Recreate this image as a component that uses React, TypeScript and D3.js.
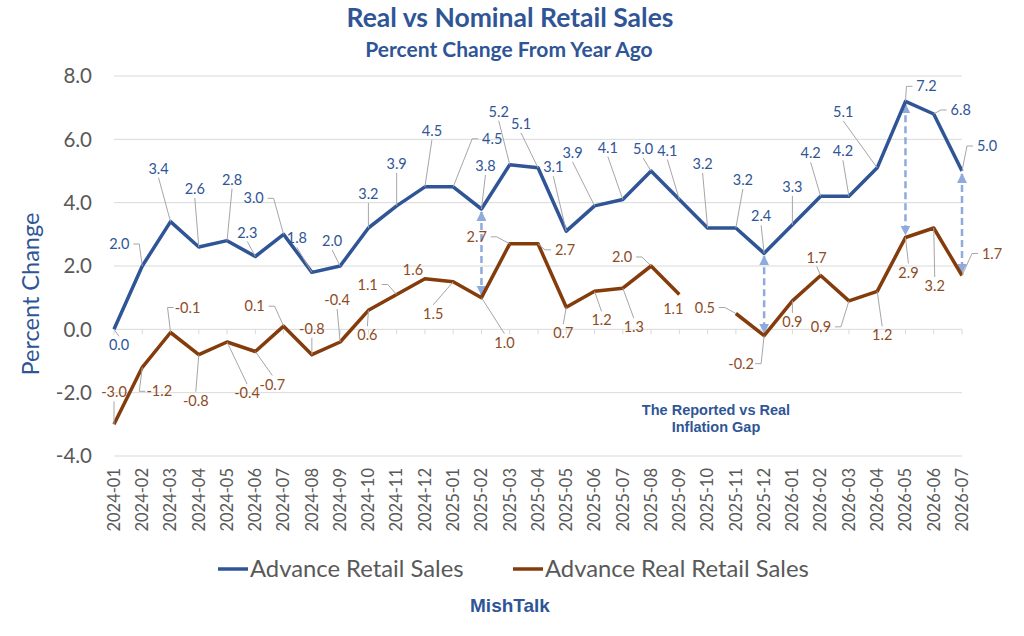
import React, { useEffect, useRef } from 'react';
import * as d3 from 'd3';

// months on the category axis
const months = [
  '2024-01', '2024-02', '2024-03', '2024-04', '2024-05', '2024-06', '2024-07', '2024-08', '2024-09', '2024-10', '2024-11', '2024-12',
  '2025-01', '2025-02', '2025-03', '2025-04', '2025-05', '2025-06', '2025-07', '2025-08', '2025-09', '2025-10', '2025-11', '2025-12',
  '2026-01', '2026-02', '2026-03', '2026-04', '2026-05', '2026-06', '2026-07',
];

const nominal = [
  0.0, 2.0, 3.4, 2.6, 2.8, 2.3, 3.0, 1.8, 2.0, 3.2, 3.9, 4.5,
  4.5, 3.8, 5.2, 5.1, 3.1, 3.9, 4.1, 5.0, 4.1, 3.2, 3.2, 2.4,
  3.3, 4.2, 4.2, 5.1, 7.2, 6.8, 5.0,
];

const real: (number | null)[] = [
  -3.0, -1.2, -0.1, -0.8, -0.4, -0.7, 0.1, -0.8, -0.4, 0.6, 1.1, 1.6,
  1.5, 1.0, 2.7, 2.7, 0.7, 1.2, 1.3, 2.0, 1.1, null, 0.5, -0.2,
  0.9, 1.7, 0.9, 1.2, 2.9, 3.2, 1.7,
];

const yTicks = [-4, -2, 0, 2, 4, 6, 8];

// months where the gap arrow is drawn
const gapMonths = ['2025-02', '2025-12', '2026-05', '2026-07'];

// label offsets (px) from each point, as placed in the original
const nominalLabelOffsets = [
  [5, 16], [-23, -22], [-12, -53], [-4, -58], [5, -61], [-8, -24], [-30, -36], [-15, -34], [-8, -25], [0, -34], [0, -42], [7, -56],
  [39, -48], [4, -43], [-11, -53], [-17, -44], [-13, -64], [-22, -53], [-15, -52], [-8, -22], [-12, -49], [-5, -64], [7, -48], [-3, -37],
  [0, -38], [-10, -43], [-6, -45], [-34, -56], [21, -15], [27, -4], [25, -25],
];
const realLabelOffsets = [
  [0, -32], [17, 24], [17, -25], [-3, 46], [20, 51], [17, 33], [-29, -20], [0, -26], [-3, -42], [-1, 25], [-29, -10], [-12, -9],
  [-20, 32], [23, 45], [-33, -7], [27, 6], [-3, 26], [7, 29], [11, 39], [-29, -9], [-6, 14], [0, 0], [-31, -6], [-23, 28],
  [0, 21], [-4, -18], [-28, 26], [5, 44], [3, 35], [1, 58], [30, -22],
];

const BLUE = '#2F5597';
const BROWN = '#843C0C';
const FONT = 'Lato, "Open Sans", sans-serif';
const ARIAL = '"Liberation Sans", Arial, sans-serif';

const App = () => {
  const ref = useRef<SVGSVGElement>(null);

  useEffect(() => {
    const svg = d3.select(ref.current);
    svg.selectAll('*').remove();

    const x = d3.scalePoint<string>().domain(months).range([114, 962]);
    const y = d3.scaleLinear().domain([-4, 8]).range([456, 76]);

    // titles
    svg.append('text').attr('x', 510).attr('y', 27).attr('text-anchor', 'middle')
      .attr('font-family', FONT).attr('font-weight', 'bold').attr('font-size', 26.5).attr('fill', BLUE)
      .text('Real vs Nominal Retail Sales');
    svg.append('text').attr('x', 509).attr('y', 57).attr('text-anchor', 'middle')
      .attr('font-family', FONT).attr('font-weight', 'bold').attr('font-size', 21).attr('fill', BLUE)
      .text('Percent Change From Year Ago');

    // gridlines
    svg.append('g').selectAll('line').data(yTicks).join('line')
      .attr('x1', 114).attr('x2', 962)
      .attr('y1', d => y(d)).attr('y2', d => y(d))
      .attr('stroke', '#D9D9D9').attr('stroke-width', 1);

    // y tick labels
    svg.append('g').selectAll('text').data(yTicks).join('text')
      .attr('x', 92).attr('y', d => y(d)).attr('dy', '0.35em').attr('text-anchor', 'end')
      .attr('font-family', FONT).attr('font-size', 20.5).attr('fill', '#595959')
      .text(d => d.toFixed(1));

    // y axis title
    svg.append('text').attr('transform', 'translate(39,294) rotate(-90)').attr('text-anchor', 'middle')
      .attr('font-family', FONT).attr('font-size', 23.5).attr('fill', BLUE)
      .text('Percent Change');

    // category tick marks on the zero line
    svg.append('g').selectAll('line').data(months).join('line')
      .attr('x1', d => x(d)!).attr('x2', d => x(d)!)
      .attr('y1', y(0)).attr('y2', y(0) + 5)
      .attr('stroke', '#D9D9D9');

    // x labels (rotated)
    svg.append('g').selectAll('text').data(months).join('text')
      .attr('transform', d => `translate(${x(d)},468) rotate(-90)`)
      .attr('dy', '0.35em').attr('text-anchor', 'end')
      .attr('font-family', FONT).attr('font-size', 16.5).attr('fill', '#595959')
      .text(d => d);

    // gap arrows
    const defs = svg.append('defs');
    ['start', 'end'].forEach(k => {
      defs.append('marker').attr('id', 'arr-' + k)
        .attr('viewBox', '0 0 10 10').attr('refX', 9).attr('refY', 5)
        .attr('markerWidth', 4).attr('markerHeight', 4)
        .attr('orient', k === 'start' ? 'auto-start-reverse' : 'auto')
        .append('path').attr('d', 'M0,0 L10,5 L0,10 z').attr('fill', '#8FAADC');
    });
    svg.append('g').selectAll('line').data(gapMonths).join('line')
      .attr('x1', d => x(d)!).attr('x2', d => x(d)!)
      .attr('y1', d => y(nominal[months.indexOf(d)]) + 3)
      .attr('y2', d => y(real[months.indexOf(d)] as number) - 3)
      .attr('stroke', '#8FAADC').attr('stroke-width', 2.5).attr('stroke-dasharray', '7,4')
      .attr('marker-start', 'url(#arr-start)').attr('marker-end', 'url(#arr-end)');

    // lines
    const line = d3.line<number | null>()
      .defined(d => d !== null)
      .x((_, i) => x(months[i])!)
      .y(d => y(d as number));
    svg.append('path').datum(nominal).attr('d', line as any)
      .attr('fill', 'none').attr('stroke', BLUE).attr('stroke-width', 3.5).attr('stroke-linejoin', 'round');
    svg.append('path').datum(real).attr('d', line)
      .attr('fill', 'none').attr('stroke', BROWN).attr('stroke-width', 3.5).attr('stroke-linejoin', 'round');

    // data labels with leader lines
    const drawLabels = (vals: (number | null)[], offs: number[][], color: string) => {
      const g = svg.append('g');
      vals.forEach((v, i) => {
        if (v === null) return;
        const px = x(months[i])!;
        const py = y(v);
        const lx = px + offs[i][0];
        const ly = py + offs[i][1];
        const hw = 12, hh = 8;
        const ddx = px - lx, ddy = py - ly;
        if (Math.abs(ddx) > hw + 4 || Math.abs(ddy) > hh + 6) {
          let pts: [number, number][];
          if (Math.abs(ddx) > hw + 4 && Math.abs(ddy) < Math.abs(ddx) * 1.6) {
            const sx = ddx > 0 ? lx + hw + 2 : lx - hw - 2;
            const hx = sx + (ddx > 0 ? 6 : -6);
            pts = [[sx, ly], [hx, ly], [px, py]];
          } else {
            const sy = ddy > 0 ? ly + hh + 1 : ly - hh - 1;
            pts = [[lx, sy], [px, py]];
          }
          g.append('path').attr('d', d3.line()(pts))
            .attr('fill', 'none').attr('stroke', '#A6A6A6').attr('stroke-width', 1);
        }
        g.append('text').attr('x', lx).attr('y', ly).attr('dy', '0.35em').attr('text-anchor', 'middle')
          .attr('font-family', FONT).attr('font-size', 14.5).attr('fill', color)
          .text(v.toFixed(1));
      });
    };
    drawLabels(nominal, nominalLabelOffsets, '#2F5597');
    drawLabels(real, realLabelOffsets, '#8E4B1F');

    // annotation
    const ann = svg.append('text').attr('text-anchor', 'middle')
      .attr('font-family', ARIAL).attr('font-weight', 'bold')
      .attr('font-size', 14.5).attr('fill', BLUE);
    ann.append('tspan').attr('x', 716).attr('y', 415).text('The Reported vs Real');
    ann.append('tspan').attr('x', 716).attr('y', 432).text('Inflation Gap');

    // legend
    const legend = [
      { name: 'Advance Retail Sales', color: BLUE, x0: 218 },
      { name: 'Advance Real Retail Sales', color: BROWN, x0: 513 },
    ];
    const lg = svg.append('g');
    legend.forEach(l => {
      lg.append('line').attr('x1', l.x0).attr('x2', l.x0 + 30).attr('y1', 569).attr('y2', 569)
        .attr('stroke', l.color).attr('stroke-width', 3.5);
      lg.append('text').attr('x', l.x0 + 32).attr('y', 569).attr('dy', '0.35em')
        .attr('font-family', FONT).attr('font-size', 23.8).attr('fill', '#595959')
        .text(l.name);
    });

    svg.append('text').attr('x', 510).attr('y', 612).attr('text-anchor', 'middle')
      .attr('font-family', ARIAL).attr('font-weight', 'bold')
      .attr('font-size', 19).attr('fill', BLUE)
      .text('MishTalk');
  }, []);

  return (
    <svg ref={ref} width={1024} height={636}
      style={{ position: 'absolute', left: 0, top: 0, background: '#fff' }} />
  );
};

export default App;
